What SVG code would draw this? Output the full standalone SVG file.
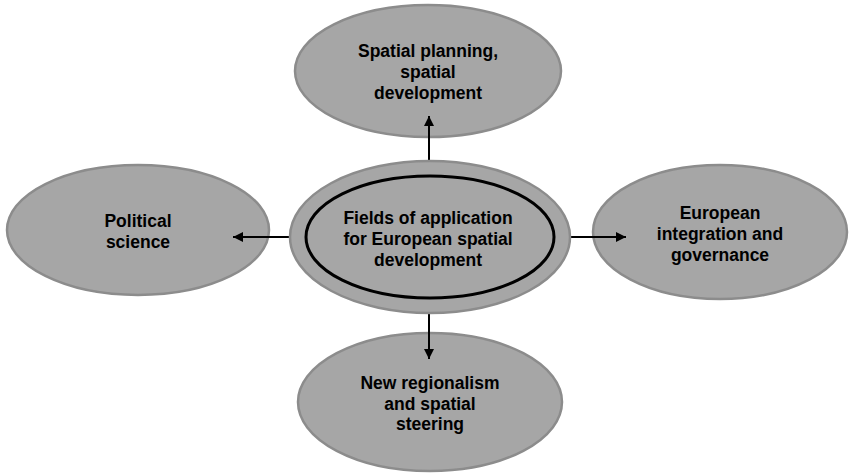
<svg xmlns="http://www.w3.org/2000/svg" width="849" height="473" viewBox="0 0 849 473">
<defs>
<style>
.node{fill:#a6a6a6;stroke:#8c8c8c;stroke-width:2.5}
.inner{fill:#a6a6a6;stroke:#000;stroke-width:3}
.lbl{font-family:"Liberation Sans",Arial,sans-serif;font-weight:bold;font-size:17.5px;fill:#000;text-anchor:middle}
.conn{stroke:#000;stroke-width:2;fill:none;marker-end:url(#arr)}
</style>
<marker id="arr" viewBox="0 0 10 10" refX="10" refY="5" markerWidth="5" markerHeight="5" markerUnits="strokeWidth" orient="auto">
<path d="M0,0 L10,5 L0,10 z" fill="#000"/>
</marker>
</defs>
<rect width="849" height="473" fill="#fff"/>
<g id="node-top">
<ellipse class="node" cx="428" cy="71" rx="133" ry="66"/>
<text class="lbl" x="428" y="57">Spatial planning,</text>
<text class="lbl" x="428" y="78">spatial</text>
<text class="lbl" x="428" y="99">development</text>
</g>
<g id="node-left">
<ellipse class="node" cx="138" cy="230" rx="131" ry="65"/>
<text class="lbl" x="138" y="227">Political</text>
<text class="lbl" x="138" y="248">science</text>
</g>
<g id="node-right">
<ellipse class="node" cx="720" cy="232" rx="127" ry="67"/>
<text class="lbl" x="720" y="219">European</text>
<text class="lbl" x="720" y="240">integration and</text>
<text class="lbl" x="720" y="261">governance</text>
</g>
<g id="node-bottom">
<ellipse class="node" cx="430" cy="402" rx="132" ry="69"/>
<text class="lbl" x="430" y="389">New regionalism</text>
<text class="lbl" x="430" y="410">and spatial</text>
<text class="lbl" x="430" y="430">steering</text>
</g>
<g id="connectors">
<line class="conn" x1="429" y1="176" x2="429" y2="116"/>
<line class="conn" x1="306" y1="237" x2="233" y2="237"/>
<line class="conn" x1="553" y1="237" x2="626" y2="237"/>
<line class="conn" x1="429" y1="299" x2="429" y2="359"/>
</g>
<g id="node-center">
<ellipse class="node" cx="430" cy="237" rx="140" ry="76"/>
<ellipse class="inner" cx="430" cy="237" rx="124" ry="61"/>
<text class="lbl" x="428" y="224">Fields of application</text>
<text class="lbl" x="428" y="245">for European spatial</text>
<text class="lbl" x="428" y="266">development</text>
</g>
</svg>
